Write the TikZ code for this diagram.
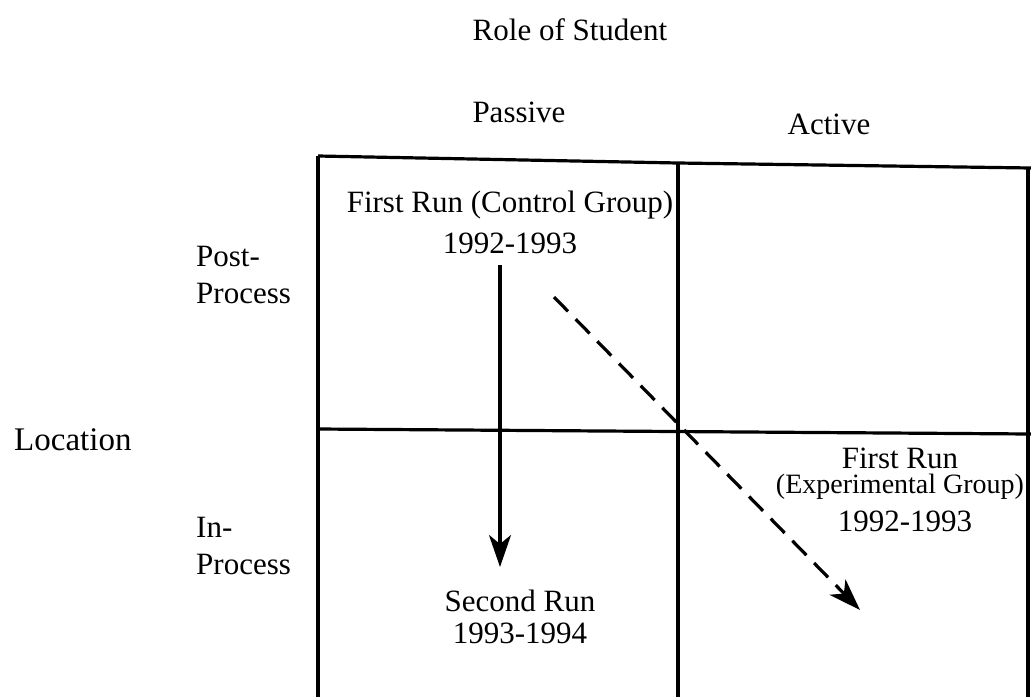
\documentclass[tikz,border=0pt]{standalone}
\usepackage{fontspec}
\setmainfont{Liberation Serif}
\usetikzlibrary{arrows.meta}
\begin{document}
\begin{tikzpicture}[x=1pt,y=-1pt,
  lbl/.style={font=\fontsize{31}{37}\selectfont, inner sep=0pt, align=center},
  side/.style={lbl, align=left, anchor=west},
  grid/.style={line width=3.2pt},
  arr/.style={line width=3.2pt, -{Stealth[length=32pt,width=22pt,inset=9pt]}}]
\useasboundingbox (0,0) rectangle (1031,697);
\fill[white] (0,0) rectangle (1031,697);
% grid
\coordinate (tl) at (318,156);
\coordinate (tm) at (678,163);
\coordinate (tr) at (1031,168);
\coordinate (ml) at (318,429);
\coordinate (mr) at (1031,434);
\coordinate (bl) at (318,697);
\coordinate (bm) at (678,697);
\coordinate (rt) at (1028,168);
\coordinate (rb) at (1028,697);
\draw[grid] (tl) -- (tm) -- (tr);
\draw[grid] (tl) -- (bl);
\draw[grid] (tm) -- (bm);
\draw[grid] (rt) -- (rb);
\draw[grid] (ml) -- (mr);
% headings
\node[lbl, anchor=base] (role) at (570,40) {Role of Student};
\node[lbl] (passive) at (519,112) {Passive};
\node[lbl] (active) at (829,124) {Active};
\node[lbl, anchor=west, font=\fontsize{33}{39}\selectfont] (loc) at (14,440) {Location};
\node[side] (post) at (196,275) {Post-\\Process};
\node[side] (inp) at (196,546) {In-\\Process};
% cell texts
\node[lbl] (fr1) at (510,205) {First Run (Control Group)};
\node[lbl] (fr1y) at (510,243) {1992-1993};
\node[lbl] (fr2) at (900,458) {First Run};
\node[lbl, font=\fontsize{28}{34}\selectfont] (fr2g) at (900,487) {(Experimental Group)};
\node[lbl] (fr2y) at (905,521) {1992-1993};
\node[lbl] (sr) at (520,601) {Second Run};
\node[lbl] (sry) at (520,633) {1993-1994};
% arrows
\coordinate (a1s) at (500,265);
\coordinate (a1e) at (500,567);
\coordinate (a2s) at (554,297);
\coordinate (a2e) at (860,610);
\draw[arr] (a1s) -- (a1e);
\draw[arr, dash pattern=on 20pt off 11pt] (a2s) -- (a2e);
\end{tikzpicture}
\end{document}
